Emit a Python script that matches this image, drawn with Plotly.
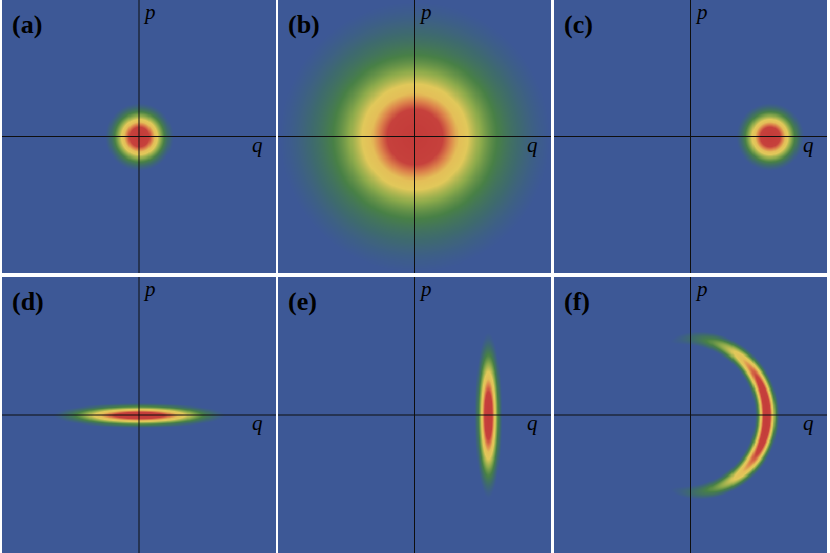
import numpy as np
import plotly.graph_objects as go

# ---- data (axis units, both axes span -5..5) ----
panel_labels = ["(a)", "(b)", "(c)", "(d)", "(e)", "(f)"]
axis_range = [-5.0, 5.0]
state_kind = ["gauss", "thermal", "gauss", "gauss", "gauss", "crescent"]
center_q = [0.0, 0.0, 2.9, 0.0, 2.69, 0.0]
center_p = [0.0, 0.0, 0.0, 0.0, 0.0, 0.0]
sigma_q = [0.47, 1.15, 0.47, 1.20, 0.19, 0.0]
sigma_p = [0.47, 1.15, 0.47, 0.17, 1.13, 0.0]
thermal_tail_sigma = 2.3
thermal_tail_weight = 0.3
crescent_radius = 2.78
crescent_sigma_r = 0.17
crescent_sigma_theta = 0.70

# ---- layout geometry (pixels in the 830x553 page) ----
W, H = 830, 553
col_px = [(2, 276), (278, 551), (554, 827)]
row_px = [(0, 273), (277, 553)]

colorscale = [
    [0.00, "rgb(61,88,150)"],
    [0.03, "rgb(61,88,150)"],
    [0.08, "rgb(62,106,110)"],
    [0.15, "rgb(72,128,70)"],
    [0.25, "rgb(140,170,75)"],
    [0.38, "rgb(225,200,90)"],
    [0.50, "rgb(228,190,88)"],
    [0.62, "rgb(220,130,75)"],
    [0.75, "rgb(198,65,60)"],
    [1.00, "rgb(196,60,58)"],
]

grid = np.linspace(axis_range[0], axis_range[1], 261)
Q, P = np.meshgrid(grid, grid)


def density(i):
    dq = Q - center_q[i]
    dp = P - center_p[i]
    kind = state_kind[i]
    if kind == "gauss":
        return np.exp(-dq**2 / (2 * sigma_q[i]**2) - dp**2 / (2 * sigma_p[i]**2))
    if kind == "thermal":
        r2 = dq**2 + dp**2
        return ((1 - thermal_tail_weight) * np.exp(-r2 / (2 * sigma_q[i]**2))
                + thermal_tail_weight * np.exp(-r2 / (2 * thermal_tail_sigma**2)))
    r = np.sqrt(Q**2 + P**2)
    th = np.arctan2(P, Q)
    return (np.exp(-(r - crescent_radius)**2 / (2 * crescent_sigma_r**2))
            * np.exp(-th**2 / (2 * crescent_sigma_theta**2)))


fig = go.Figure()
layout = dict(width=W, height=H, margin=dict(l=0, r=0, t=0, b=0),
              paper_bgcolor="white", plot_bgcolor="rgb(61,88,150)",
              showlegend=False)
shapes = []
annotations = []
for i in range(6):
    r, c = divmod(i, 3)
    n = "" if i == 0 else str(i + 1)
    xa, ya = "x" + n, "y" + n
    x0, x1 = col_px[c]
    y0, y1 = row_px[r]
    layout["xaxis" + n] = dict(domain=[x0 / W, x1 / W], range=axis_range,
                               visible=False, anchor=ya, fixedrange=True)
    layout["yaxis" + n] = dict(domain=[(H - y1) / H, (H - y0) / H], range=axis_range,
                               visible=False, anchor=xa, fixedrange=True)
    fig.add_trace(go.Heatmap(x=grid, y=grid, z=density(i), zmin=0, zmax=1,
                             colorscale=colorscale, showscale=False,
                             zsmooth="best", hoverinfo="skip",
                             xaxis=xa, yaxis=ya))
    line = dict(color="rgb(15,15,15)", width=1)
    shapes.append(dict(type="line", xref=xa, yref=ya, x0=axis_range[0], x1=axis_range[1],
                       y0=0, y1=0, line=line, layer="above"))
    shapes.append(dict(type="line", xref=xa, yref=ya, x0=0, x1=0,
                       y0=axis_range[0], y1=axis_range[1], line=line, layer="above"))
    annotations.append(dict(text="<i>p</i>", xref=xa, yref=ya, x=0, y=axis_range[1],
                            xanchor="left", yanchor="top", xshift=2, yshift=2,
                            showarrow=False,
                            font=dict(family="Liberation Serif", size=21, color="black")))
    annotations.append(dict(text="<i>q</i>", xref=xa, yref=ya, x=4.32, y=0,
                            xanchor="center", yanchor="top", yshift=6,
                            showarrow=False,
                            font=dict(family="Liberation Serif", size=21, color="black")))
    annotations.append(dict(text="<b>" + panel_labels[i] + "</b>", xref=xa, yref=ya,
                            x=axis_range[0], y=axis_range[1], xanchor="left", yanchor="top",
                            xshift=8, yshift=-8, showarrow=False,
                            font=dict(family="Liberation Serif", size=26, color="black")))

layout["shapes"] = shapes
layout["annotations"] = annotations
fig.update_layout(**layout)
fig.write_html("out.html", config={"displayModeBar": False, "staticPlot": True},
               post_script="document.body.style.margin='0';")
